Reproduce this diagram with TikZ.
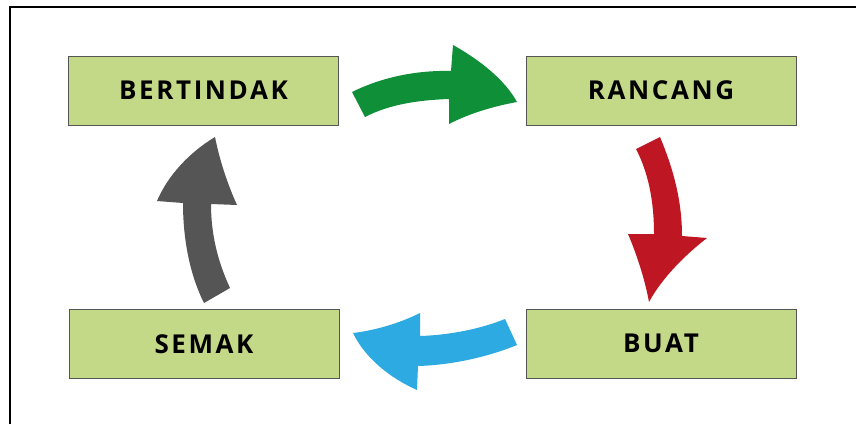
\documentclass[tikz,border=0pt]{standalone}
\usepackage{fontspec}
\setmainfont{Open Sans}
\newfontfamily\boxfont[LetterSpace=10]{Open Sans}
\usepackage{tikz}

\definecolor{boxfill}{HTML}{C4D987}
\definecolor{boxline}{HTML}{555555}
\definecolor{arrgreen}{HTML}{0F8F38}
\definecolor{arrred}{HTML}{BE1622}
\definecolor{arrgray}{HTML}{555555}
\definecolor{arrblue}{HTML}{2DAAE1}

\begin{document}
\begin{tikzpicture}[x=1pt, y=-1pt,
  stage/.style={rectangle, draw=boxline, fill=boxfill, line width=0.8pt,
    minimum width=270pt, minimum height=69pt, inner sep=0pt,
    font=\boxfont\bfseries\fontsize{26}{30}\selectfont}]

 \useasboundingbox (0,0) rectangle (856,424);

 %%%  frame
 \draw [line width=2pt] (10,424) -- (10,7) -- (856,7);

 %%%  nodes

 % cycle stages
 \node [stage] (bertindak) at (203.5,90.5) {BERTINDAK};
 \node [stage] (rancang) at (661,90.5) {RANCANG};
 \node [stage] (buat) at (661,343.5) {BUAT};
 \node [stage] (semak) at (204,344) {SEMAK};

 %%%  arrows

 % bertindak to rancang
 \fill [arrgreen] (352,92) .. controls (380,78) and (415,70) .. (451,71)
   -- (453,45) .. controls (480,60) and (505,80) .. (517,102)
   .. controls (495,106) and (470,113) .. (449,124)
   -- (449,99) .. controls (420,100) and (390,104) .. (365,117) -- cycle;

 % rancang to buat
 \fill [arrred] (636,149) -- (660,137)
   .. controls (673,168) and (682,200) .. (682,236)
   -- (707,238) .. controls (685,255) and (662,278) .. (649,302)
   .. controls (645,280) and (637,255) .. (628,234)
   -- (654,234) .. controls (654,200) and (648,172) .. (636,149) -- cycle;

 % buat to semak
 \fill [arrblue] (505,319) -- (517,345)
   .. controls (485,358) and (450,365) .. (418,366)
   -- (417,390) .. controls (390,378) and (365,358) .. (353,333)
   .. controls (378,330) and (402,322) .. (420,313)
   -- (420,336) .. controls (450,335) and (480,329) .. (505,319) -- cycle;

 % semak to bertindak
 \fill [arrgray] (204,303) -- (230,288)
   .. controls (218,262) and (211,235) .. (211,204)
   -- (237,205) .. controls (228,185) and (220,162) .. (215,137)
   .. controls (190,152) and (168,175) .. (157,201)
   -- (183,203) .. controls (183,240) and (190,275) .. (204,303) -- cycle;

\end{tikzpicture}
\end{document}
